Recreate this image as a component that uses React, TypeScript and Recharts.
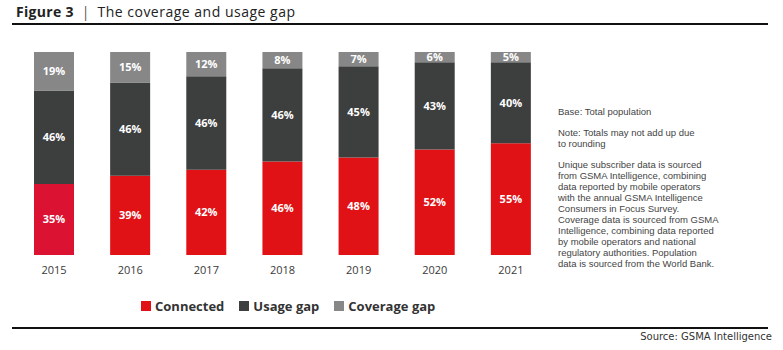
import React from "react";
import { BarChart, Bar, XAxis, YAxis, LabelList, Cell } from "recharts";

const years = ["2015", "2016", "2017", "2018", "2019", "2020", "2021"];
const connected = [35, 39, 42, 46, 48, 52, 55];
const usageGap = [46, 46, 46, 46, 45, 43, 40];
const coverageGap = [19, 15, 12, 8, 7, 6, 5];

const RED = "#E11216";
const RED_2015 = "#DC1232";
const DARK = "#3D3E3E";
const GRAY = "#878787";

const data = years.map((y, i) => ({
  year: y,
  connected: connected[i],
  usage: usageGap[i],
  coverage: coverageGap[i],
}));

const notes = [
  ["Base: Total population"],
  ["Note: Totals may not add up due", "to rounding"],
  [
    "Unique subscriber data is sourced",
    "from GSMA Intelligence, combining",
    "data reported by mobile operators",
    "with the annual GSMA Intelligence",
    "Consumers in Focus Survey.",
    "Coverage data is sourced from GSMA",
    "Intelligence, combining data reported",
    "by mobile operators and national",
    "regulatory authorities. Population",
    "data is sourced from the World Bank.",
  ],
];

const legendItems = [
  { label: "Connected", color: RED },
  { label: "Usage gap", color: DARK },
  { label: "Coverage gap", color: GRAY },
];

const FONT = "'Open Sans', sans-serif";
const NOTE_FONT = "'Liberation Sans', Arial, sans-serif";
const fmt = (v: any) => `${v}%`;
const labelStyle = { fill: "#ffffff", fontSize: 11, fontWeight: 700, fontFamily: FONT };

export default function App() {
  return (
    <div
      style={{
        position: "absolute",
        left: 0,
        top: 0,
        width: 783,
        height: 350,
        background: "#fff",
        fontFamily: FONT,
        overflow: "hidden",
      }}
    >
      <div style={{ position: "absolute", left: 16, top: 2, fontSize: 14, color: "#222", whiteSpace: "nowrap" }}>
        <span style={{ fontWeight: 700, letterSpacing: 0.3 }}>Figure 3</span>
        <span style={{ margin: "0 8px", color: "#555" }}>|</span>
        <span style={{ letterSpacing: 0.5 }}>The coverage and usage gap</span>
      </div>
      <div style={{ position: "absolute", left: 12, top: 23, width: 756, height: 2, background: "#111" }} />

      <div style={{ position: "absolute", left: 0, top: 0 }}>
        <BarChart
          width={560}
          height={290}
          data={data}
          margin={{ top: 52, right: 11, left: 16, bottom: 5 }}
        >
          <XAxis
            dataKey="year"
            axisLine={false}
            tickLine={false}
            height={30}
            tickMargin={5}
            tick={{ fill: "#3a3a3a", fontSize: 11, fontFamily: FONT }}
          />
          <YAxis hide domain={[0, 100]} allowDataOverflow />
          <Bar dataKey="connected" stackId="a" fill={RED} barSize={40} isAnimationActive={false}>
            {data.map((d, i) => (
              <Cell key={d.year} fill={i === 0 ? RED_2015 : RED} />
            ))}
            <LabelList dataKey="connected" position="center" formatter={fmt} style={labelStyle} />
          </Bar>
          <Bar dataKey="usage" stackId="a" fill={DARK} barSize={40} isAnimationActive={false}>
            <LabelList dataKey="usage" position="center" formatter={fmt} style={labelStyle} />
          </Bar>
          <Bar dataKey="coverage" stackId="a" fill={GRAY} barSize={40} isAnimationActive={false}>
            <LabelList dataKey="coverage" position="center" formatter={fmt} style={labelStyle} />
          </Bar>
        </BarChart>
      </div>

      <div style={{ position: "absolute", left: 141, top: 297, display: "flex", alignItems: "center", whiteSpace: "nowrap" }}>
        {legendItems.map((it) => (
          <div key={it.label} style={{ display: "flex", alignItems: "center", marginRight: 15 }}>
            <div style={{ width: 10, height: 10, background: it.color, marginRight: 4 }} />
            <span style={{ fontSize: 13, fontWeight: 700, color: "#333" }}>{it.label}</span>
          </div>
        ))}
      </div>

      <div
        style={{
          position: "absolute",
          left: 558,
          top: 106,
          fontSize: 9.5,
          lineHeight: "11px",
          color: "#444",
          fontFamily: NOTE_FONT,
        }}
      >
        {notes.map((para, pi) => (
          <div key={pi} style={{ marginBottom: 10 }}>
            {para.map((l) => (
              <div key={l} style={{ whiteSpace: "nowrap" }}>{l}</div>
            ))}
          </div>
        ))}
      </div>

      <div style={{ position: "absolute", left: 12, top: 327, width: 756, height: 2, background: "#111" }} />
      <div
        style={{
          position: "absolute",
          right: 11,
          top: 331,
          fontSize: 10,
          color: "#333",
          whiteSpace: "nowrap",
          fontFamily: "'DejaVu Sans', sans-serif",
        }}
      >
        Source: GSMA Intelligence
      </div>
    </div>
  );
}
